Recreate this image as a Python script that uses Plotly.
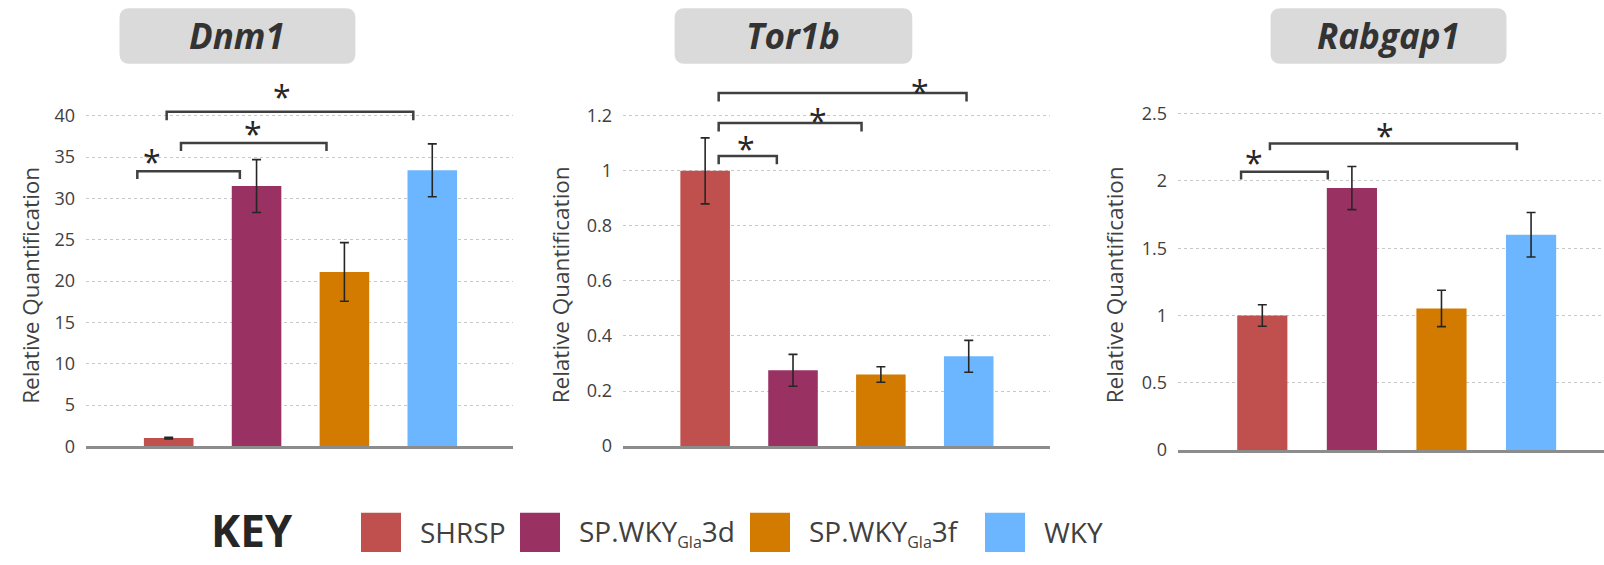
import plotly.graph_objects as go

# ---- data -------------------------------------------------------------
groups = ["SHRSP", "SP.WKY<sub>Gla</sub>3d", "SP.WKY<sub>Gla</sub>3f", "WKY"]
genes = ["Dnm1", "Tor1b", "Rabgap1"]

dnm1_rq = [1.0, 31.5, 21.1, 33.4]
dnm1_err = [0.1, 3.2, 3.55, 3.2]

tor1b_rq = [1.0, 0.275, 0.26, 0.326]
tor1b_err = [0.12, 0.058, 0.028, 0.058]

rabgap1_rq = [1.0, 1.947, 1.052, 1.60]
rabgap1_err = [0.08, 0.16, 0.135, 0.165]

dnm1_ticks = [0, 5, 10, 15, 20, 25, 30, 35, 40]
tor1b_ticks = [0, 0.2, 0.4, 0.6, 0.8, 1, 1.2]
rabgap1_ticks = [0, 0.5, 1, 1.5, 2, 2.5]

# ---- styling ----------------------------------------------------------
colors = ["#C0504D", "#993163", "#D27B00", "#6CB6FF"]
FONT = "Open Sans"
TEXT = "#404040"
W, H = 1604, 565


def px(x):
    return x / W


def py(y):
    return 1 - y / H


# per-panel geometry: x domain (px), x range, y range, y domain (px), bar width
panels = [
    dict(gene="Dnm1", rq=dnm1_rq, err=dnm1_err, ticks=dnm1_ticks,
         xd=(86.1, 513.1), xr=[-0.94, 3.92], yr=[0, 46], yd=(455.2, 67.5),
         bw=0.564, title_box=(119.5, 355.4), ytitle_x=30.5,
         # brackets: (x_left, x_right, y_top, y_bottom, star_x, star_y)
         brackets=[(-0.357, 0.81, 33.3, 32.35, -0.19, 35.3),
                   (0.14, 1.796, 36.7, 35.75, 0.956, 38.7),
                   (-0.023, 2.784, 40.5, 39.45, 1.286, 43.2)]),
    dict(gene="Tor1b", rq=tor1b_rq, err=tor1b_err, ticks=tor1b_ticks,
         xd=(623.0, 1050.0), xr=[-0.935, 3.925], yr=[0, 1.38], yd=(454.9, 67.6),
         bw=0.564, title_box=(674.6, 912.3), ytitle_x=560.0,
         brackets=[(0.154, 0.816, 1.054, 1.024, 0.47, 1.108),
                   (0.154, 1.78, 1.174, 1.143, 1.29, 1.21),
                   (0.154, 2.975, 1.283, 1.252, 2.45, 1.315)]),
    dict(gene="Rabgap1", rq=rabgap1_rq, err=rabgap1_err, ticks=rabgap1_ticks,
         xd=(1178.0, 1604.0), xr=[-0.941, 3.814], yr=[0, 2.7], yd=(458.9, 88.5),
         bw=0.56, title_box=(1270.6, 1506.5), ytitle_x=1114.0,
         brackets=[(-0.237, 0.731, 2.068, 2.01, -0.089, 2.19),
                   (0.085, 2.842, 2.278, 2.228, 1.374, 2.39)]),
]

fig = go.Figure()
shapes = []
annotations = []

for i, p in enumerate(panels):
    n = i + 1
    xa = "x" if n == 1 else f"x{n}"
    ya = "y" if n == 1 else f"y{n}"
    fig.add_trace(go.Bar(
        x=list(range(len(groups))), y=p["rq"],
        width=p["bw"],
        marker=dict(color=colors, line=dict(width=0)),
        error_y=dict(type="data", array=p["err"], visible=True,
                     color="#262626", thickness=1.6, width=4.5),
        xaxis=xa, yaxis=ya, showlegend=False,
        hovertext=[g.replace("<sub>", "").replace("</sub>", "") for g in groups],
    ))

    xkey = "xaxis" if n == 1 else f"xaxis{n}"
    ykey = "yaxis" if n == 1 else f"yaxis{n}"
    fig.update_layout(**{
        xkey: dict(domain=[px(p["xd"][0]), px(p["xd"][1])], range=p["xr"],
                   showgrid=False, zeroline=False, showticklabels=False,
                   showline=True, linecolor="#8C8C8C", linewidth=2.5,
                   ticks="", anchor=ya, fixedrange=True),
        ykey: dict(domain=[py(p["yd"][0]), py(p["yd"][1])], range=p["yr"],
                   tickvals=p["ticks"], ticktext=[f"{t:g}" for t in p["ticks"]],
                   showgrid=True, gridcolor="#C8C8C8", gridwidth=1,
                   griddash="dot", zeroline=False, showline=False,
                   ticks="", ticklabelstandoff=10,
                   tickfont=dict(family=FONT, size=18, color=TEXT),
                   anchor=xa, fixedrange=True),
    })

    # significance brackets and stars
    for (x0, x1, yt, yb, sx, sy) in p["brackets"]:
        shapes.append(dict(
            type="path", xref=xa, yref=ya,
            path=f"M {x0},{yb} L {x0},{yt} L {x1},{yt} L {x1},{yb}",
            line=dict(color="#404040", width=2.5), layer="above"))
        annotations.append(dict(
            x=sx, y=sy, xref=xa, yref=ya, text="*", showarrow=False,
            xanchor="center", yanchor="middle", yshift=-7,
            font=dict(family=FONT, size=32, color="#262626")))

    # gene title in a rounded grey box
    bx0, bx1 = p["title_box"]
    by0, by1 = 8.3, 65.0
    r = 10
    path = (f"M {px(bx0 + r)},{py(by0)} L {px(bx1 - r)},{py(by0)} "
            f"Q {px(bx1)},{py(by0)} {px(bx1)},{py(by0 + r)} "
            f"L {px(bx1)},{py(by1 - r)} "
            f"Q {px(bx1)},{py(by1)} {px(bx1 - r)},{py(by1)} "
            f"L {px(bx0 + r)},{py(by1)} "
            f"Q {px(bx0)},{py(by1)} {px(bx0)},{py(by1 - r)} "
            f"L {px(bx0)},{py(by0 + r)} "
            f"Q {px(bx0)},{py(by0)} {px(bx0 + r)},{py(by0)} Z")
    shapes.append(dict(type="path", xref="paper", yref="paper", path=path,
                       fillcolor="#DADADA", line=dict(width=0), layer="below"))
    annotations.append(dict(
        x=px((bx0 + bx1) / 2), y=py((by0 + by1) / 2), xref="paper", yref="paper",
        text=f"<b><i>{p['gene']}</i></b>", showarrow=False,
        xanchor="center", yanchor="middle",
        font=dict(family=FONT, size=35, color="#333333")))

    # y-axis title
    annotations.append(dict(
        x=px(p["ytitle_x"]), y=py(291), xref="paper", yref="paper",
        text="Relative Quantification", textangle=-90, showarrow=False,
        xanchor="center", yanchor="middle",
        font=dict(family=FONT, size=22.5, color=TEXT)))

# ---- key ----------------------------------------------------------------
annotations.append(dict(
    x=px(209), y=py(541), xref="paper", yref="paper", text="<b>KEY</b>",
    showarrow=False, xanchor="left", yanchor="middle",
    font=dict(family=FONT, size=44, color="#262626")))


def key_label(name):
    # smaller subscript for the strain suffix
    return (name.replace("<sub>", '<sub><span style="font-size:16px">')
                .replace("</sub>", "</span></sub>"))


swatch_left = [361, 520, 750, 985]
for g, c, sx in zip(groups, colors, swatch_left):
    shapes.append(dict(type="rect", xref="paper", yref="paper",
                       x0=px(sx), x1=px(sx + 40), y0=py(563), y1=py(523),
                       fillcolor=c, line=dict(width=0)))
    annotations.append(dict(
        x=px(sx + 57), y=py(543), xref="paper", yref="paper", text=key_label(g),
        showarrow=False, xanchor="left", yanchor="middle",
        font=dict(family=FONT, size=28, color=TEXT)))

fig.update_layout(
    width=W, height=H,
    margin=dict(l=0, r=0, t=0, b=0),
    paper_bgcolor="white", plot_bgcolor="white",
    bargap=0.3,
    shapes=shapes, annotations=annotations,
    font=dict(family=FONT, color=TEXT),
)

fig.write_html("out.html")
